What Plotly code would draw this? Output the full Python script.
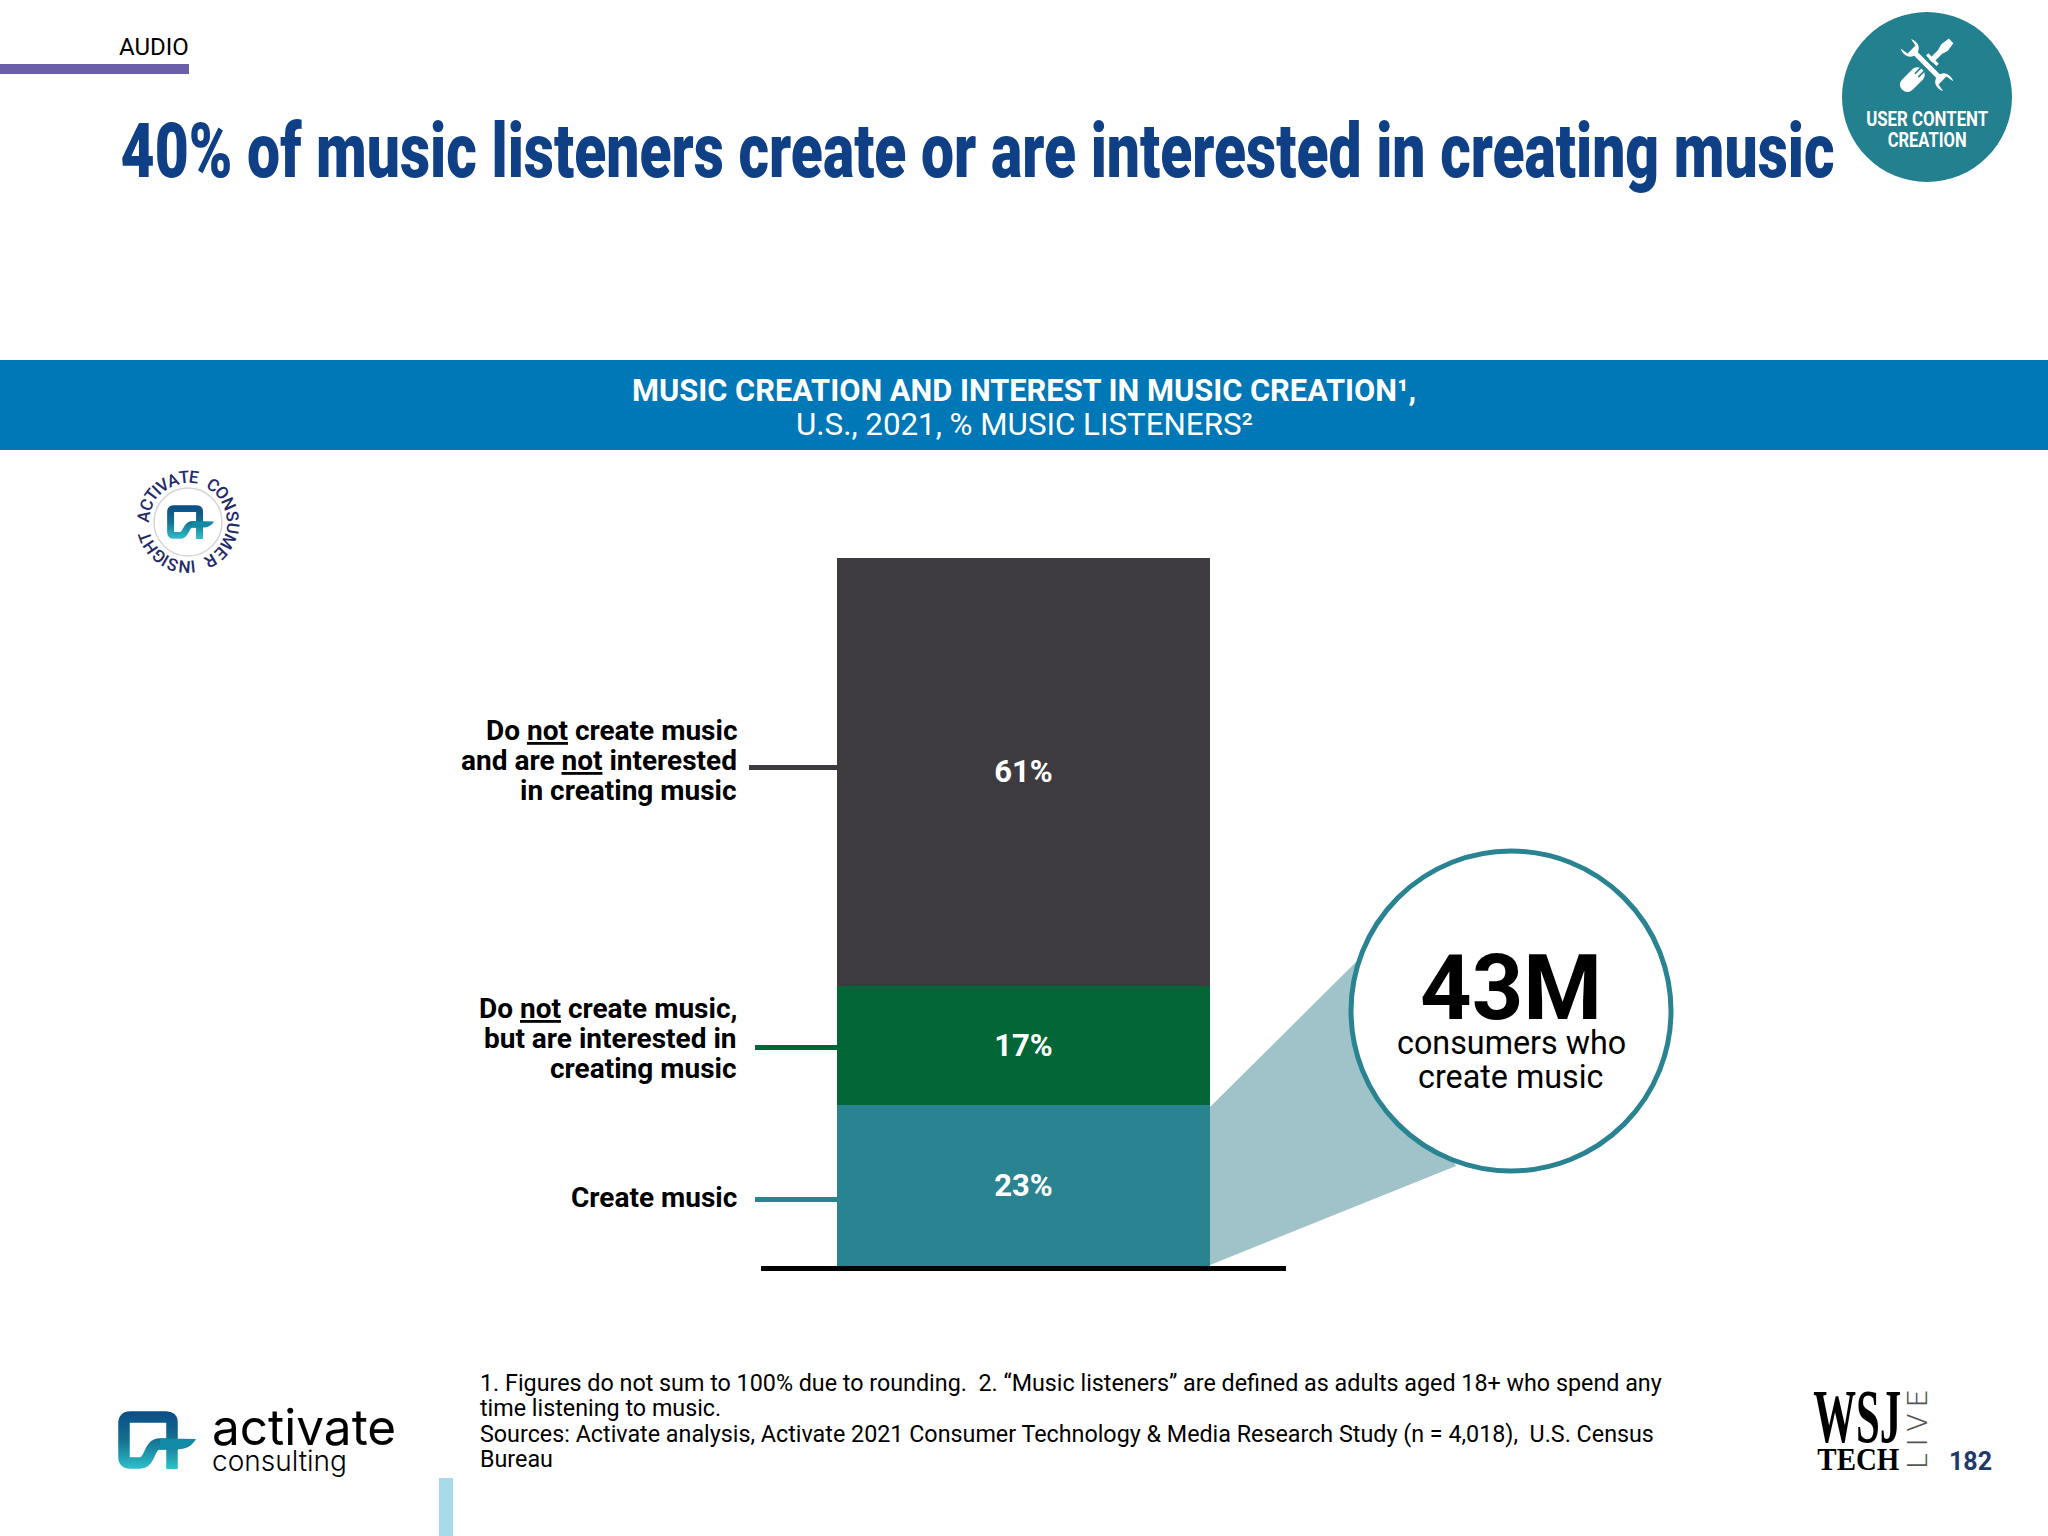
import base64
import json
import math
import plotly.graph_objects as go

W = 2048
H = 1536

# Chart data, bottom segment first
categories = ['Create music', 'Do not create music, but are interested', 'Do not create music and are not interested']
values = [23, 17, 61]
bar_colors = ['#2a8391', '#036636', '#3d3b40']
bar_labels = ['23%', '17%', '61%']

title = '40% of music listeners create or are interested in creating music'
band_lines = ['<b>MUSIC CREATION AND INTEREST IN MUSIC CREATION¹,</b>',
              'U.S., 2021, % MUSIC LISTENERS²']
footnotes = ['1. Figures do not sum to 100% due to rounding.  2. “Music listeners” are defined as adults aged 18+ who spend any',
             'time listening to music.',
             'Sources: Activate analysis, Activate 2021 Consumer Technology & Media Research Study (n = 4,018),  U.S. Census',
             'Bureau']

# no condensed fonts installed, so these get squeezed to their width after drawing
squeeze = {title: 1714, 'USER CONTENT': 122, 'CREATION': 79, 'WSJ': 88, 'TECH': 82, 'L I V E': 78}

# relative letter widths for the ring around the small logo
narrow = {'I': 0.45, 'T': 0.9, 'M': 1.25}


def px(x):
    return x / W


def py(y):
    return 1 - y / H


def label(x, y, text, size, color='#000000', family='Roboto', anchor='left', angle=0, weight='normal'):
    fig.add_annotation(x=px(x), y=py(y), xref='paper', yref='paper', text=text, showarrow=False,
                       xanchor=anchor, yanchor='middle', textangle=angle,
                       font=dict(family=family, size=size, color=color, weight=weight))


def rect(x0, y0, x1, y1, color):
    fig.add_shape(type='rect', xref='paper', yref='paper', x0=px(x0), x1=px(x1), y0=py(y0), y1=py(y1),
                  fillcolor=color, line_width=0, layer='below')


def circle(cx, cy, r, fill, line_color=None, line_width=0):
    fig.add_shape(type='circle', xref='paper', yref='paper', x0=px(cx - r), x1=px(cx + r),
                  y0=py(cy - r), y1=py(cy + r), fillcolor=fill, layer='below',
                  line=dict(color=line_color, width=line_width))


def svg_image(svg, x, y, w, h):
    src = 'data:image/svg+xml;base64,' + base64.b64encode(svg.encode()).decode()
    fig.add_layout_image(source=src, xref='paper', yref='paper', x=px(x), y=py(y), sizex=w / W, sizey=h / H,
                         xanchor='left', yanchor='top', sizing='stretch', layer='above')


def ring_word(word, start, end):
    # spread one word along the ring between two angles, clockwise from the top
    sizes = [narrow.get(ch, 1) for ch in word]
    total = sum(sizes) - (sizes[0] + sizes[-1]) / 2
    pos = 0
    for i, ch in enumerate(word):
        if i > 0:
            pos += (sizes[i - 1] + sizes[i]) / 2
        ang = start + (end - start) * pos / total
        rad = math.radians(ang)
        fig.add_annotation(x=px(188 + 45 * math.sin(rad)), y=py(522 - 45 * math.cos(rad)), xref='paper', yref='paper',
                           text=ch, showarrow=False, textangle=ang, xanchor='center', yanchor='middle',
                           font=dict(family='Roboto', size=17, color='#1f2a68', weight=500))


def logo_svg():
    return ('<svg xmlns="http://www.w3.org/2000/svg" viewBox="0 0 78 58" width="780" height="580">'
            '<defs><linearGradient id="g" gradientUnits="userSpaceOnUse" x1="0" y1="0" x2="0" y2="58">'
            '<stop offset="0" stop-color="#0b4c86"/><stop offset="0.5" stop-color="#14708f"/>'
            '<stop offset="1" stop-color="#2fc0cb"/></linearGradient></defs>'
            '<path d="M54 58 L54 11 Q54 6 48 6 L12 6 Q6 6 6 12 L6 46 Q6 52 12 52 L22 52 C33 52 30 33 42 33 L56 33" '
            'fill="none" stroke="url(#g)" stroke-width="11.5"/>'
            '<path d="M42 27.5 L78 28 C74 35 68 38.5 58 38.5 L42 38.5 Z" fill="#128aa5"/>'
            '</svg>')


def tools_svg():
    teal = '#22808f'
    return ('<svg xmlns="http://www.w3.org/2000/svg" viewBox="-8 -8 76 76" width="608" height="608">'
            '<g transform="rotate(45 30 30)" fill="#ffffff">'
            '<path d="M26.5 -7 L33.5 -7 L35 3 L33 10 L33 24 L27 24 L27 10 L25 3 Z"/>'
            '<rect x="22" y="20" width="16" height="3.5"/>'
            '<rect x="22" y="37" width="16" height="31" rx="7.5"/>'
            f'<rect x="26.5" y="37" width="1.8" height="9" fill="{teal}"/>'
            f'<rect x="31.7" y="37" width="1.8" height="9" fill="{teal}"/>'
            '</g>'
            f'<path transform="rotate(-45 30 30)" fill="#ffffff" stroke="{teal}" stroke-width="2.5" '
            'd="M23 -6 C17 2 19 11 26 14 L26 46 C19 49 17 58 23 66 L25 55 L35 55 L37 66 '
            'C43 58 41 49 34 46 L34 14 C41 11 43 2 37 -6 L35 5 L25 5 Z"/>'
            '</svg>')


fig = go.Figure()

for cat, val, col, lab in zip(categories, values, bar_colors, bar_labels):
    fig.add_trace(go.Bar(x=['Music listeners'], y=[val], name=cat, marker=dict(color=col, line_width=0),
                         text=[lab], textposition='inside', insidetextanchor='middle', textangle=0,
                         textfont=dict(family='Roboto', size=31, color='#ffffff', weight='bold')))

fig.update_layout(
    width=W, height=H, barmode='stack', bargap=0.291, showlegend=False,
    margin=dict(l=0, r=0, t=0, b=0), paper_bgcolor='#ffffff', plot_bgcolor='rgba(0,0,0,0)',
    xaxis=dict(domain=[px(761), px(1286)], showticklabels=False, ticks='', showgrid=False, zeroline=False,
               showline=True, linecolor='#000000', linewidth=5),
    yaxis=dict(domain=[py(1266), py(558)], range=[0, 101], visible=False, showgrid=False),
)

# top of the slide
rect(0, 64, 189, 74, '#6b5fa8')
label(117, 47, 'AUDIO', 24)
label(977, 151, title, 76, color='#0f3f85', anchor='center', weight=900)

# badge
circle(1927, 97, 85, '#22808f')
svg_image(tools_svg(), 1892, 30, 70, 70)
label(1927, 119, 'USER CONTENT', 21, color='#ffffff', anchor='center', weight='bold')
label(1927, 140, 'CREATION', 21, color='#ffffff', anchor='center', weight='bold')

# blue band
rect(0, 360, W, 450, '#0077b6')
label(1024, 390, band_lines[0], 30.8, color='#ffffff', anchor='center')
label(1024, 424, band_lines[1], 31.3, color='#ffffff', anchor='center')

# small round logo
circle(188, 522, 34, '#ffffff', '#d5d5d5', 1.5)
svg_image(logo_svg(), 167, 505, 47, 34)
ring_word('ACTIVATE', -82, 8)
ring_word('CONSUMER', 34, 150)
ring_word('INSIGHT', 174, 250)

# row labels and leader lines
for y, line in zip([730, 760, 790], ['Do <u>not</u> create music', 'and are <u>not</u> interested', 'in creating music']):
    label(739, y, '<b>' + line + '</b>', 28, anchor='right')
for y, line in zip([1008, 1038, 1068], ['Do <u>not</u> create music,', 'but are interested in', 'creating music']):
    label(739, y, '<b>' + line + '</b>', 28, anchor='right')
label(739, 1197, '<b>Create music</b>', 28, anchor='right')
rect(749, 765, 838, 770, '#3d3b40')
rect(755, 1045, 838, 1050, '#036636')
rect(755, 1197, 838, 1202, '#2a8391')

# callout
fig.add_shape(type='path', xref='paper', yref='paper', fillcolor='#9fc3c9', line_width=0, layer='below',
              path=f'M{px(1210)} {py(1107)} L{px(1358)} {py(960)} L{px(1456)} {py(1166)} L{px(1210)} {py(1265)} Z')
circle(1511, 1011, 160, '#ffffff', '#2a8391', 5)
label(1511, 988, '<b>43M</b>', 90, anchor='center')
label(1511, 1043, 'consumers who', 32.3, anchor='center')
label(1511, 1077, 'create music', 32.3, anchor='center')

# footer
for y, line in zip([1383, 1408, 1434, 1459], footnotes):
    label(478, y, line, 23.3)
rect(439, 1478, 453, 1536, '#a6dbe7')
svg_image(logo_svg(), 118, 1411, 78, 58)
label(210, 1427, 'activate', 49.5, family='Inter')
label(210, 1461, 'consulting', 28, family='Inter', weight=300)
label(1857, 1416, 'WSJ', 77, family='Liberation Serif', anchor='center', weight='bold')
label(1858, 1459, 'TECH', 32, family='Liberation Serif', anchor='center', weight='bold')
label(1918, 1430, 'L I V E', 27, color='#555555', anchor='center', angle=-90, weight=300)
label(1970, 1461, '<b>182</b>', 25, color='#1f3a6a', anchor='center')

post = ("document.body.style.margin='0';"
        "var squeeze=" + json.dumps(squeeze) + ";"
        "document.querySelectorAll('.annotation-text').forEach(function(t){"
        "var w=squeeze[t.textContent];"
        "if(w){t.setAttribute('textLength',w);t.setAttribute('lengthAdjust','spacingAndGlyphs');}});")

fig.write_html("out.html", post_script=post, config={'displayModeBar': False})
